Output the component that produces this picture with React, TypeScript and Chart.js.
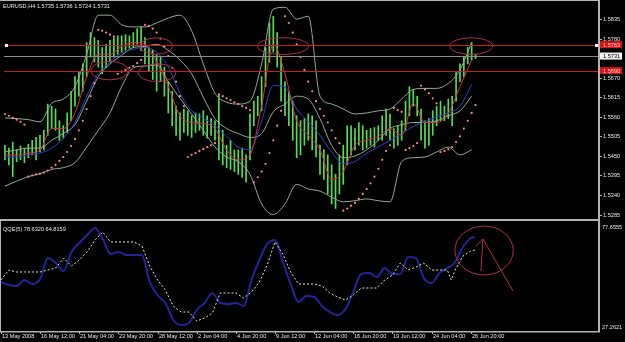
import { useEffect, useRef } from "react";
import { Chart, registerables } from "chart.js";
Chart.register(...registerables);

// ---------- DATA ----------
const barHigh = [
  1.5480, 1.5472, 1.5489, 1.5467, 1.5478, 1.5472, 1.5483, 1.5494, 1.5502, 1.5508,
  1.5522, 1.5596, 1.5590, 1.5582, 1.5549, 1.5535, 1.5571, 1.5632, 1.5673, 1.5687,
  1.5709, 1.5769, 1.5797, 1.5783, 1.5775, 1.5755, 1.5764, 1.5775, 1.5783, 1.5788,
  1.5788, 1.5791, 1.5788, 1.5797, 1.5808, 1.5813, 1.5783, 1.5755, 1.5747, 1.5736,
  1.5728, 1.5700, 1.5659, 1.5632, 1.5590, 1.5571, 1.5582, 1.5577, 1.5563, 1.5571,
  1.5568, 1.5577, 1.5563, 1.5555, 1.5549, 1.5623, 1.5522, 1.5480, 1.5494, 1.5467,
  1.5467, 1.5472, 1.5453, 1.5568, 1.5604, 1.5618, 1.5673, 1.5755, 1.5824, 1.5843,
  1.5797, 1.5728, 1.5659, 1.5632, 1.5604, 1.5563, 1.5549, 1.5555, 1.5568, 1.5563,
  1.5549, 1.5480, 1.5467, 1.5453, 1.5425, 1.5398, 1.5453, 1.5480, 1.5535, 1.5535,
  1.5527, 1.5544, 1.5535, 1.5522, 1.5527, 1.5530, 1.5535, 1.5563, 1.5582, 1.5568,
  1.5527, 1.5535, 1.5549, 1.5604, 1.5645, 1.5637, 1.5618, 1.5582, 1.5549, 1.5555,
  1.5577, 1.5590, 1.5604, 1.5590, 1.5610, 1.5618, 1.5687, 1.5709, 1.5728, 1.5755, 1.5769, 1.5736,
];
const barLow = [
  1.5439, 1.5425, 1.5392, 1.5434, 1.5439, 1.5431, 1.5445, 1.5453, 1.5439, 1.5461,
  1.5467, 1.5508, 1.5527, 1.5522, 1.5494, 1.5500, 1.5516, 1.5549, 1.5590, 1.5618,
  1.5632, 1.5673, 1.5728, 1.5714, 1.5700, 1.5681, 1.5698, 1.5714, 1.5728, 1.5736,
  1.5742, 1.5747, 1.5753, 1.5755, 1.5764, 1.5747, 1.5709, 1.5687, 1.5665, 1.5632,
  1.5659, 1.5618, 1.5571, 1.5535, 1.5508, 1.5494, 1.5516, 1.5508, 1.5502, 1.5516,
  1.5522, 1.5508, 1.5500, 1.5508, 1.5494, 1.5439, 1.5425, 1.5417, 1.5412, 1.5406,
  1.5398, 1.5390, 1.5376, 1.5439, 1.5535, 1.5563, 1.5577, 1.5645, 1.5714, 1.5742,
  1.5700, 1.5604, 1.5563, 1.5535, 1.5494, 1.5445, 1.5453, 1.5480, 1.5494, 1.5467,
  1.5447, 1.5398, 1.5384, 1.5343, 1.5315, 1.5302, 1.5343, 1.5370, 1.5425, 1.5453,
  1.5467, 1.5480, 1.5467, 1.5472, 1.5480, 1.5475, 1.5494, 1.5494, 1.5508, 1.5494,
  1.5472, 1.5480, 1.5494, 1.5522, 1.5563, 1.5590, 1.5563, 1.5494, 1.5472, 1.5480,
  1.5508, 1.5535, 1.5549, 1.5549, 1.5555, 1.5535, 1.5604, 1.5659, 1.5673, 1.5709, 1.5720, 1.5724,
];
const sarValues = [
  1.5568, 1.5563, 1.5557, 1.5552, 1.5546, 1.5538,
  1.5392, 1.5395, 1.5398, 1.5400, 1.5403, 1.5409, 1.5417, 1.5425, 1.5436, 1.5447, 1.5461, 1.5478, 1.5497, 1.5522, 1.5549, 1.5582, 1.5618, 1.5654,
  1.5805, 1.5802, 1.5797, 1.5791, 1.5786,
  1.5681, 1.5687, 1.5692, 1.5698, 1.5703, 1.5711, 1.5720,
  1.5819, 1.5816, 1.5808, 1.5797, 1.5780, 1.5758, 1.5731, 1.5698, 1.5659, 1.5618, 1.5590,
  1.5447, 1.5453, 1.5458, 1.5464, 1.5469, 1.5475, 1.5480, 1.5486,
  1.5623, 1.5618, 1.5612, 1.5607, 1.5601, 1.5596, 1.5590, 1.5585, 1.5579,
  1.5376, 1.5390, 1.5406, 1.5428, 1.5458, 1.5494, 1.5535, 1.5577,
  1.5843, 1.5824, 1.5797, 1.5764, 1.5728, 1.5692, 1.5659, 1.5632, 1.5604, 1.5582, 1.5563, 1.5544, 1.5522, 1.5500, 1.5486,
  1.5296, 1.5302, 1.5310, 1.5318, 1.5329, 1.5343, 1.5357, 1.5373, 1.5392, 1.5414, 1.5439, 1.5464, 1.5480,
  1.5585, 1.5579, 1.5574,
  1.5467, 1.5472, 1.5478, 1.5486,
  1.5648, 1.5637, 1.5626, 1.5612, 1.5598,
  1.5461, 1.5464, 1.5469, 1.5475, 1.5489, 1.5505, 1.5527, 1.5549, 1.5571, 1.5593,
];
const lineBars = [
  0, 3, 6, 9, 12, 15, 18, 21, 24, 27, 30, 33, 36, 39, 42, 45, 48, 51, 54, 57, 60,
  63, 66, 69, 72, 75, 78, 81, 84, 87, 90, 93, 96, 99, 102, 105, 108, 111, 114, 117, 120,
];
const bbUpper = [
  1.5557, 1.5555, 1.5552, 1.5546, 1.5598, 1.5610, 1.5645, 1.5736, 1.5846, 1.5846, 1.5819,
  1.5813, 1.5813, 1.5824, 1.5838, 1.5846, 1.5802, 1.5709, 1.5626, 1.5601, 1.5596,
  1.5604, 1.5709, 1.5863, 1.5868, 1.5835, 1.5843, 1.5618, 1.5596, 1.5582, 1.5568,
  1.5571, 1.5577, 1.5582, 1.5610, 1.5637, 1.5640, 1.5640, 1.5654, 1.5692, 1.5769,
];
const bbMiddle = [
  1.5461, 1.5467, 1.5472, 1.5472, 1.5494, 1.5513, 1.5538, 1.5604, 1.5673, 1.5709, 1.5733,
  1.5755, 1.5758, 1.5764, 1.5747, 1.5720, 1.5681, 1.5615, 1.5555, 1.5527, 1.5513,
  1.5502, 1.5513, 1.5574, 1.5596, 1.5618, 1.5610, 1.5555, 1.5480, 1.5445, 1.5450,
  1.5467, 1.5494, 1.5527, 1.5538, 1.5544, 1.5544, 1.5549, 1.5563, 1.5577, 1.5618,
];
const bbLower = [
  1.5365, 1.5379, 1.5392, 1.5400, 1.5412, 1.5417, 1.5431, 1.5475, 1.5522, 1.5571, 1.5645,
  1.5698, 1.5703, 1.5706, 1.5659, 1.5612, 1.5568, 1.5522, 1.5475, 1.5447, 1.5434,
  1.5398, 1.5315, 1.5285, 1.5315, 1.5370, 1.5357, 1.5351, 1.5334, 1.5321, 1.5324,
  1.5329, 1.5324, 1.5321, 1.5434, 1.5445, 1.5447, 1.5461, 1.5475, 1.5453, 1.5467,
];
const maBlue = [
  1.5447, 1.5447, 1.5453, 1.5458, 1.5472, 1.5500, 1.5544, 1.5618, 1.5681, 1.5714, 1.5739,
  1.5750, 1.5755, 1.5742, 1.5700, 1.5626, 1.5577, 1.5557, 1.5535, 1.5505, 1.5475,
  1.5467, 1.5549, 1.5648, 1.5643, 1.5582, 1.5546, 1.5508, 1.5461, 1.5428, 1.5434,
  1.5458, 1.5475, 1.5494, 1.5513, 1.5533, 1.5546, 1.5560, 1.5571, 1.5590, 1.5651,
];
const maRed = [
  1.5453, 1.5453, 1.5458, 1.5467, 1.5527, 1.5527, 1.5571, 1.5673, 1.5736, 1.5736, 1.5758,
  1.5769, 1.5764, 1.5714, 1.5645, 1.5563, 1.5544, 1.5541, 1.5527, 1.5467, 1.5439,
  1.5453, 1.5590, 1.5764, 1.5681, 1.5549, 1.5508, 1.5467, 1.5384, 1.5406, 1.5480,
  1.5494, 1.5505, 1.5527, 1.5508, 1.5598, 1.5544, 1.5544, 1.5571, 1.5645, 1.5720,
];
const qqeBars = [
  0, 2, 4, 6, 8, 10, 12, 14, 16, 18, 20, 22, 24, 26, 28, 30, 32, 34, 36, 38, 40,
  42, 44, 46, 48, 50, 52, 54, 56, 58, 60, 62, 64, 66, 68, 70, 72, 74, 76, 78, 80,
  82, 84, 86, 88, 90, 92, 94, 96, 98, 100, 102, 104, 106, 108, 110, 112, 114, 115, 116, 118, 120, 121,
];
const qqeFast = [
  49.92, 48.53, 48.07, 50.84, 48.99, 51.30, 61.01, 58.70, 55.00, 63.79, 67.95,
  71.65, 74.88, 69.80, 62.86, 63.79, 62.40, 62.40, 62.40, 49.92, 43.91,
  40.21, 32.35, 30.04, 30.96, 36.97, 40.21, 44.83, 40.21, 39.74, 40.21,
  38.82, 50.84, 60.09, 67.48, 69.33, 59.16, 48.99, 40.67, 43.44, 42.98,
  38.82, 36.05, 34.66, 37.43, 45.29, 53.61, 54.08, 52.23, 56.39, 53.61,
  53.61, 61.47, 61.01, 51.77, 49.45, 54.08, 56.39, 57.31, 59.16, 66.10, 70.26, 70.72,
];
const qqeSlow = [
  50.84, 55.46, 54.54, 54.54, 54.54, 54.54, 55.46, 56.39, 61.01, 57.31, 60.09,
  63.79, 69.33, 73.03, 68.41, 68.41, 68.41, 68.41, 66.56, 57.31, 50.84,
  46.22, 38.82, 36.05, 36.05, 31.88, 33.27, 35.58, 44.83, 44.83, 44.83,
  42.52, 45.29, 49.92, 57.78, 68.41, 62.86, 54.54, 48.99, 48.99, 48.99,
  48.07, 44.83, 42.98, 41.59, 43.91, 47.14, 47.14, 47.14, 50.84, 53.15,
  58.70, 55.46, 56.85, 58.70, 55.46, 55.46, 55.46, 50.84, 55.46, 61.94, 64.25, 64.71,
];
const xTickBars = [0, 10, 20, 30, 40, 50, 60, 70, 80, 90, 100, 110, 120];
const xTickLabels = [
  "13 May 2008", "16 May 12:00", "21 May 04:00", "23 May 20:00", "28 May 12:00",
  "2 Jun 04:00", "4 Jun 20:00", "9 Jun 12:00", "12 Jun 04:00", "16 Jun 20:00",
  "19 Jun 12:00", "24 Jun 04:00", "26 Jun 20:00",
];
const priceTicks = [1.5835, 1.578, 1.567, 1.5615, 1.556, 1.5505, 1.545, 1.5395, 1.534, 1.5285];
const redLevels = [1.5763, 1.569];
const lastPrice = 1.5731;
const titleMain = "EURUSD,H4 1.5735 1.5736 1.5724 1.5731";
const titleQQE = "QQE(5) 78.6320 64.8159";
const qqeMax = 77.6555;
const qqeMin = 27.2621;
const priceMin = 1.52782;
const priceMax = 1.58774;
const xMin = -0.25;
const xMax = 152.75;
// hand-drawn annotations: [centreBar, centreValue, radiusBars, radiusValue]
const priceEllipses = [
  [26.9, 1.569, 4.83, 0.0026],
  [39.1, 1.5684, 4.85, 0.0025],
  [38.9, 1.5759, 4.2, 0.0023],
  [71.5, 1.5759, 6.64, 0.00234],
  [119.9, 1.5759, 5.5, 0.00234],
];
const qqeEllipses = [[123.4, 64.48, 7.45, 11.3]];
const qqeStrokes = [
  [[122.6, 55.0], [123.1, 69.8], [130.8, 45.75]],
  [[121.3, 66.56], [123.1, 69.8]],
];

// ---------- STYLE ----------
const FONT = '5.6px "Liberation Sans", Arial, sans-serif';
const TEXT = "#e8e8e8";
const FRAME = "#b4b4b4";
const ANNOT = "#b42a4c";
const BAND = "#93ac93";

const mainDecor = {
  id: "mainDecor",
  afterDatasetsDraw(chart: any) {
    const { ctx, chartArea: a, scales } = chart;
    const xs = scales.x, ys = scales.y;
    ctx.save();
    ctx.lineWidth = 1;
    ctx.strokeStyle = ANNOT;
    for (const [cx, cy, rx, ry] of priceEllipses) {
      const px = xs.getPixelForValue(cx), py = ys.getPixelForValue(cy);
      const prx = Math.abs(xs.getPixelForValue(cx + rx) - px);
      const pry = Math.abs(ys.getPixelForValue(cy + ry) - py);
      ctx.beginPath();
      ctx.ellipse(px, py, prx, pry, 0, 0, Math.PI * 2);
      ctx.stroke();
    }
    const level = (v: number, color: string) => {
      const py = Math.round(ys.getPixelForValue(v)) + 0.5;
      ctx.strokeStyle = color;
      ctx.beginPath();
      ctx.moveTo(a.left, py);
      ctx.lineTo(a.right, py);
      ctx.stroke();
    };
    level(lastPrice, "#8c8c8c");
    redLevels.forEach((v) => level(v, "#c41e1e"));
    const hy = Math.round(ys.getPixelForValue(redLevels[0]));
    ctx.fillStyle = "#ffffff";
    ctx.fillRect(a.left + 1, hy - 1, 3, 3);
    ctx.fillRect(a.right - 4, hy - 1, 3, 3);
    ctx.restore();
  },
  afterDraw(chart: any) {
    const { ctx, chartArea: a, scales, height } = chart;
    const ys = scales.y;
    ctx.save();
    ctx.fillStyle = FRAME;
    ctx.fillRect(0, 0, a.right + 1, 1);
    ctx.fillRect(a.right - 1, 0, 2, height);
    ctx.fillRect(0, height - 2, a.right + 1, 2);
    ctx.font = FONT;
    ctx.textBaseline = "middle";
    ctx.textAlign = "left";
    for (const t of priceTicks) {
      const py = Math.round(ys.getPixelForValue(t));
      ctx.fillStyle = FRAME;
      ctx.fillRect(a.right + 1, py, 2, 1);
      ctx.fillStyle = TEXT;
      ctx.fillText(t.toFixed(4), a.right + 4, py + 0.5);
    }
    const box = (v: number, bg: string, fg: string) => {
      const py = ys.getPixelForValue(v);
      ctx.fillStyle = bg;
      ctx.fillRect(a.right + 1, py - 3.5, 22, 7);
      ctx.fillStyle = fg;
      ctx.fillText(v.toFixed(4), a.right + 4, py + 0.5);
    };
    box(redLevels[0], "#d81414", "#ffd0d0");
    box(lastPrice, "#f2f2f2", "#000000");
    box(redLevels[1], "#d81414", "#ffd0d0");
    ctx.fillStyle = TEXT;
    ctx.fillText(titleMain, 3, 6.5);
    ctx.restore();
  },
};

const qqeDecor = {
  id: "qqeDecor",
  afterDatasetsDraw(chart: any) {
    const { ctx, scales } = chart;
    const xs = scales.x, ys = scales.y;
    ctx.save();
    ctx.strokeStyle = ANNOT;
    ctx.lineWidth = 1;
    for (const [cx, cy, rx, ry] of qqeEllipses) {
      const px = xs.getPixelForValue(cx), py = ys.getPixelForValue(cy);
      const prx = Math.abs(xs.getPixelForValue(cx + rx) - px);
      const pry = Math.abs(ys.getPixelForValue(cy + ry) - py);
      ctx.beginPath();
      ctx.ellipse(px, py, prx, pry, 0, 0, Math.PI * 2);
      ctx.stroke();
    }
    for (const stroke of qqeStrokes) {
      ctx.beginPath();
      stroke.forEach(([bx, v], k) => {
        const px = xs.getPixelForValue(bx), py = ys.getPixelForValue(v);
        if (k === 0) ctx.moveTo(px, py);
        else ctx.lineTo(px, py);
      });
      ctx.stroke();
    }
    ctx.restore();
  },
  afterDraw(chart: any) {
    const { ctx, chartArea: a, scales } = chart;
    const xs = scales.x;
    ctx.save();
    ctx.fillStyle = FRAME;
    ctx.fillRect(0, 0, 1, a.bottom);
    ctx.fillRect(a.right - 1, 0, 2, a.bottom + 1);
    ctx.fillRect(0, a.bottom, a.right + 1, 1.5);
    ctx.font = FONT;
    ctx.textAlign = "left";
    ctx.textBaseline = "middle";
    xTickBars.forEach((b, k) => {
      const px = Math.round(xs.getPixelForValue(b));
      ctx.fillStyle = FRAME;
      ctx.fillRect(px, a.bottom, 1, 3);
      ctx.fillStyle = TEXT;
      ctx.fillText(xTickLabels[k], px + 1, a.bottom + 5.5);
    });
    ctx.fillStyle = TEXT;
    ctx.fillText(qqeMax.toFixed(4), a.right + 3, a.top + 5);
    ctx.fillText(qqeMin.toFixed(4), a.right + 3, a.bottom - 4);
    ctx.fillText(titleQQE, 3, a.top + 7);
    ctx.restore();
  },
};

const lineDs = (vals: number[], color: string, order: number) => ({
  type: "line" as const,
  data: lineBars.map((b, k) => ({ x: b, y: vals[k] })),
  borderColor: color,
  borderWidth: 1,
  pointRadius: 0,
  cubicInterpolationMode: "monotone" as const,
  order,
});

export default function App() {
  const topRef = useRef<HTMLCanvasElement>(null);
  const botRef = useRef<HTMLCanvasElement>(null);

  useEffect(() => {
    document.body.style.margin = "0";
    document.body.style.background = "#000";
    const common: any = {
      responsive: false,
      maintainAspectRatio: false,
      animation: false,
      devicePixelRatio: 1,
      events: [],
      plugins: { legend: { display: false }, tooltip: { enabled: false } },
    };
    const top = new Chart(topRef.current!, {
      type: "bar",
      data: {
        datasets: [
          {
            type: "scatter",
            data: sarValues.map((v, i) => ({ x: i, y: v })),
            pointRadius: 1.1,
            pointBackgroundColor: "#ff8a8a",
            pointBorderWidth: 0,
            order: 0,
          } as any,
          lineDs(maRed, "#d83232", 1),
          lineDs(maBlue, "#3040d0", 2),
          lineDs(bbUpper, BAND, 3),
          lineDs(bbMiddle, BAND, 3),
          lineDs(bbLower, BAND, 3),
          {
            type: "bar",
            data: barHigh.map((h, i) => ({ x: i, y: [barLow[i], h] })),
            backgroundColor: "#56de56",
            borderWidth: 0,
            barThickness: 1,
            order: 10,
          } as any,
        ],
      },
      options: {
        ...common,
        layout: { padding: { left: 0, right: 26, top: 1, bottom: 1 } },
        scales: {
          x: { type: "linear", min: xMin, max: xMax, offset: false, display: false },
          y: { type: "linear", min: priceMin, max: priceMax, display: false },
        },
      },
      plugins: [mainDecor],
    });
    const bottom = new Chart(botRef.current!, {
      type: "line",
      data: {
        datasets: [
          {
            data: qqeBars.map((b, k) => ({ x: b, y: qqeSlow[k] })),
            borderColor: "#ecebc4",
            borderWidth: 1,
            borderDash: [2, 2],
            pointRadius: 0,
            order: 0,
          },
          {
            data: qqeBars.map((b, k) => ({ x: b, y: qqeFast[k] })),
            borderColor: "#23239e",
            borderWidth: 2,
            pointRadius: 0,
            cubicInterpolationMode: "monotone",
            order: 1,
          },
        ],
      },
      options: {
        ...common,
        layout: { padding: { left: 0, right: 26, top: 1, bottom: 11 } },
        scales: {
          x: { type: "linear", min: xMin, max: xMax, offset: false, display: false },
          y: { type: "linear", min: qqeMin, max: qqeMax, display: false },
        },
      },
      plugins: [qqeDecor],
    });
    return () => {
      top.destroy();
      bottom.destroy();
    };
  }, []);

  return (
    <div style={{ position: "relative", width: 625, height: 342, background: "#000", overflow: "hidden" }}>
      <canvas ref={topRef} width={625} height={221} style={{ position: "absolute", left: 0, top: 0, width: 625, height: 221 }} />
      <canvas ref={botRef} width={625} height={121} style={{ position: "absolute", left: 0, top: 221, width: 625, height: 121 }} />
    </div>
  );
}
